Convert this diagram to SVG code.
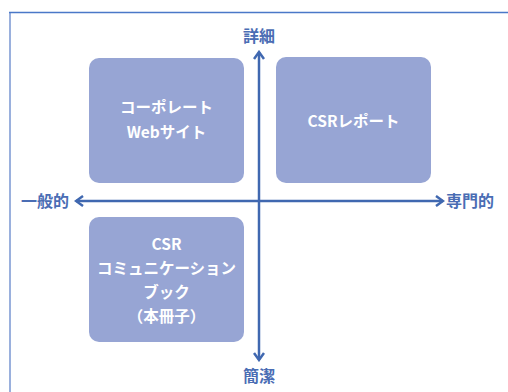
<svg xmlns="http://www.w3.org/2000/svg" width="508" height="392" viewBox="0 0 508 392">
<style>
.box{fill:#97a5d4}
.bt{font-family:"Noto Sans CJK JP","Noto Sans",sans-serif;font-weight:bold;font-size:15.5px;fill:#fff;text-anchor:middle}
.ax{font-family:"Noto Sans CJK JP","Noto Sans",sans-serif;font-weight:bold;font-size:16px;fill:#4a6db4}
.axis{stroke:#4068b0;stroke-width:2.5;fill:none}
</style>
<defs>
<marker id="ah" viewBox="0 0 12 12" refX="10" refY="6" markerWidth="12" markerHeight="12" markerUnits="userSpaceOnUse" orient="auto">
<path d="M3,1 L10,6 L3,11" fill="none" stroke="#4068b0" stroke-width="2.5"/>
</marker>
</defs>
<rect width="508" height="392" fill="#fff"/>
<line x1="10" y1="12" x2="10" y2="392" stroke="#9ab0dd" stroke-width="2"/>
<line x1="9" y1="12.5" x2="508" y2="12.5" stroke="#4a78c8" stroke-width="1.5"/>
<g id="n1"><rect class="box" x="89" y="58" width="155" height="125" rx="10"/>
<text class="bt" x="166.5" y="113">コーポレート</text>
<text class="bt" x="166.5" y="138">Webサイト</text></g>
<g id="n2"><rect class="box" x="276" y="57" width="155" height="126" rx="10"/>
<text class="bt" x="353.5" y="127">CSRレポート</text></g>
<g id="n3"><rect class="box" x="89" y="217" width="155" height="125" rx="10"/>
<text class="bt" x="166.5" y="250">CSR</text>
<text class="bt" x="166.5" y="274">コミュニケーション</text>
<text class="bt" x="166.5" y="298">ブック</text>
<text class="bt" x="166.5" y="322">（本冊子）</text></g>
<g id="connectors">
<line class="axis" x1="259" y1="201" x2="259" y2="52" marker-end="url(#ah)"/>
<line class="axis" x1="259" y1="201" x2="259" y2="360" marker-end="url(#ah)"/>
<line class="axis" x1="259" y1="201" x2="76" y2="201" marker-end="url(#ah)"/>
<line class="axis" x1="259" y1="201" x2="443" y2="201" marker-end="url(#ah)"/>
</g>
<g id="labels">
<text class="ax" x="259" y="42" text-anchor="middle">詳細</text>
<text class="ax" x="259" y="382" text-anchor="middle">簡潔</text>
<text class="ax" x="21" y="207">一般的</text>
<text class="ax" x="446" y="207">専門的</text>
</g>
</svg>
